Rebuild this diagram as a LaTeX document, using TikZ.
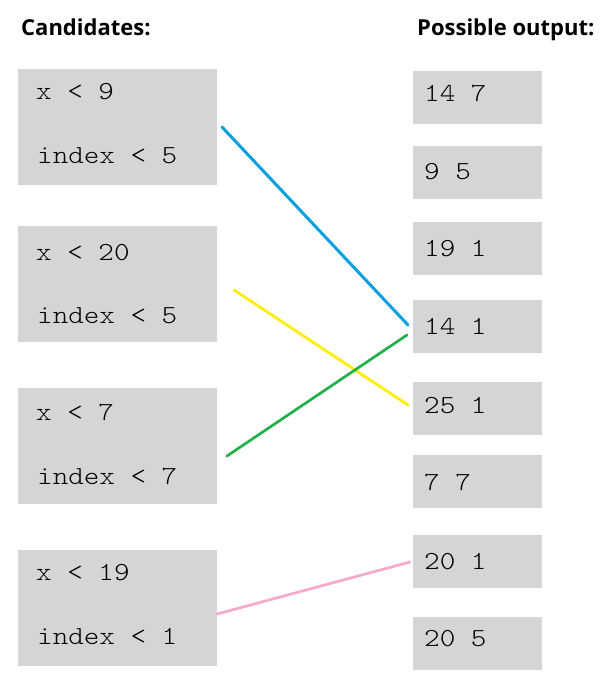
\documentclass[tikz,border=0pt]{standalone}
\usepackage{fontspec}
\setmainfont{Open Sans}
\newfontfamily\codefont{lmmonolt10-regular.otf}[FakeStretch=1.14]
\definecolor{boxgray}{HTML}{D4D5D7}
\definecolor{lblue}{HTML}{0AA0E0}
\definecolor{lyellow}{HTML}{FFEE00}
\definecolor{lgreen}{HTML}{22B04A}
\definecolor{lpink}{HTML}{F8A8C8}
\begin{document}
\begin{tikzpicture}[x=1pt,y=-1pt,
  title/.style={anchor=base west,inner sep=0pt,font=\fontsize{22}{26}\selectfont\bfseries},
  candbox/.style={fill=boxgray,draw=none,anchor=north west,inner sep=0pt,minimum width=199pt,minimum height=116pt},
  outbox/.style={fill=boxgray,draw=none,anchor=north west,inner sep=0pt,minimum width=129pt,minimum height=53pt},
  code/.style={anchor=base west,inner sep=0pt,font=\codefont\fontsize{26}{30}\selectfont},
  link/.style={line width=2.7pt,line cap=round}]
\useasboundingbox (0,0) rectangle (600,689);
% titles
\node[title] (tc) at (21,35) {Candidates:};
\node[title] (tp) at (417,35) {Possible output:};
% candidate boxes
\node[candbox] (c1) at (18,69) {};
\node[candbox] (c2) at (18,226) {};
\node[candbox] (c3) at (18,388) {};
\node[candbox] (c4) at (18,550) {};
\node[code] (c1a) at (36,99) {x < 9};
\node[code] (c1b) at (37,163) {index < 5};
\node[code] (c2a) at (36,260) {x < 20};
\node[code] (c2b) at (37,323) {index < 5};
\node[code] (c3a) at (36,420) {x < 7};
\node[code] (c3b) at (37,484) {index < 7};
\node[code] (c4a) at (36,580) {x < 19};
\node[code] (c4b) at (37,644) {index < 1};
% output boxes
\node[outbox] (o1) at (413,71) {};
\node[outbox] (o2) at (413,146) {};
\node[outbox] (o3) at (413,222) {};
\node[outbox] (o4) at (413,300) {};
\node[outbox] (o5) at (413,382) {};
\node[outbox] (o6) at (413,455) {};
\node[outbox] (o7) at (413,535) {};
\node[outbox] (o8) at (413,617) {};
\node[code] (o1t) at (424,101) {14 7};
\node[code] (o2t) at (424,179) {9 5};
\node[code] (o3t) at (424,256) {19 1};
\node[code] (o4t) at (424,334) {14 1};
\node[code] (o5t) at (424,413) {25 1};
\node[code] (o6t) at (424,490) {7 7};
\node[code] (o7t) at (424,569) {20 1};
\node[code] (o8t) at (424,646) {20 5};
% connector end points
\coordinate (bs) at (222,127);
\coordinate (be) at (408,325);
\coordinate (ys) at (234,290);
\coordinate (ye) at (408,405);
\coordinate (gs) at (227,456);
\coordinate (ge) at (407,335);
\coordinate (ps) at (217,614);
\coordinate (pe) at (410,562);
\draw[link,lblue,line width=3pt] (bs) -- (be);
\draw[link,lyellow] (ys) -- (ye);
\draw[link,lgreen] (gs) -- (ge);
\draw[link,lpink] (ps) -- (pe);
\end{tikzpicture}
\end{document}
